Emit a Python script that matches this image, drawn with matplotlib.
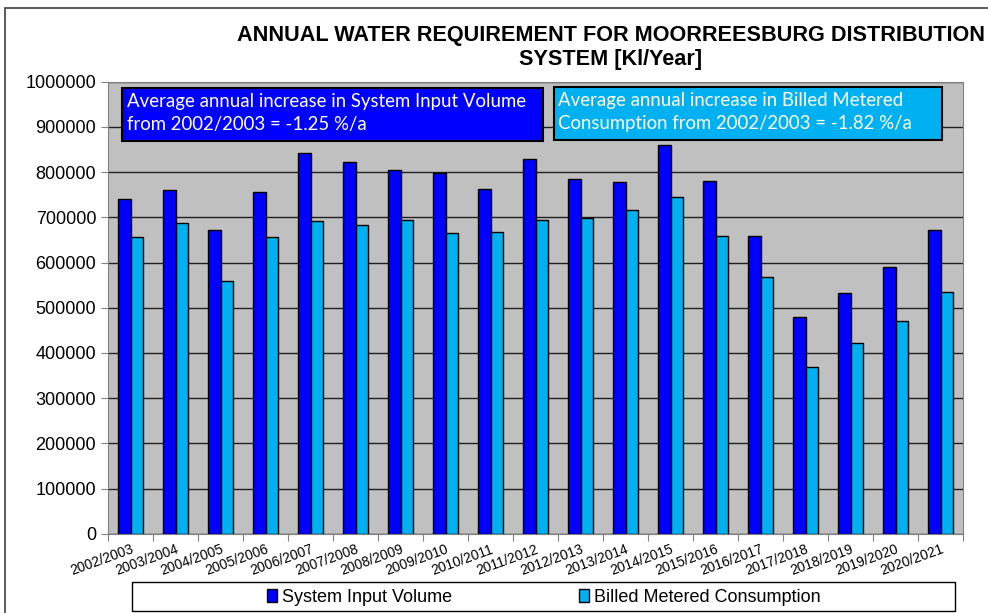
import numpy as np
import matplotlib.pyplot as plt
from matplotlib.patches import Rectangle

# data
years = ['2002/2003', '2003/2004', '2004/2005', '2005/2006', '2006/2007', '2007/2008',
         '2008/2009', '2009/2010', '2010/2011', '2011/2012', '2012/2013', '2013/2014',
         '2014/2015', '2015/2016', '2016/2017', '2017/2018', '2018/2019', '2019/2020',
         '2020/2021']
system_input = [740000, 760000, 672000, 755000, 842000, 823000, 804000, 797000, 763000,
                828000, 785000, 779000, 860000, 780000, 659000, 480000, 533000, 590000,
                671000]
billed_metered = [656000, 688000, 559000, 657000, 692000, 684000, 693000, 666000, 668000,
                  695000, 698000, 717000, 746000, 658000, 569000, 369000, 421000, 470000,
                  535000]
yticks = np.arange(0, 1000001, 100000)

siv_color = '#0000FF'
bmc_color = '#00B0F0'

W, H = 988, 613
fig = plt.figure(figsize=(W / 100, H / 100), dpi=100)
ax = fig.add_axes([108 / W, 1 - 533.7 / H, (963.3 - 108) / W, (533.7 - 81.7) / H])

x = np.arange(len(years))
bw = 0.28
ax.set_facecolor('#C0C0C0')
ax.bar(x - bw / 2, system_input, bw, color=siv_color, edgecolor='black', linewidth=1,
       label='System Input Volume', zorder=3)
ax.bar(x + bw / 2, billed_metered, bw, color=bmc_color, edgecolor='black', linewidth=1,
       label='Billed Metered Consumption', zorder=3)

ax.set_xlim(-0.5, len(years) - 0.5)
ax.set_ylim(0, 1000000)
ax.set_yticks(yticks)
ax.set_yticklabels([str(v) for v in yticks], fontsize=13, family='Liberation Sans')
ax.yaxis.grid(True, color='#202020', linewidth=1, zorder=1)

# ticks between categories, labels at the centres
ax.set_xticks(np.arange(-0.5, len(years), 1))
ax.set_xticklabels([])
ax.set_xticks(x, minor=True)
ax.set_xticklabels(years, minor=True, rotation=20, ha='right', va='top',
                   rotation_mode='anchor', fontsize=10, family='Liberation Sans')
ax.tick_params(axis='x', which='minor', length=0, pad=6)
ax.tick_params(axis='both', which='major', length=5, color='#808080', direction='out')
for s in ax.spines.values():
    s.set_color('#808080')

# title
fig.text(611 / W, 1 - 36 / H, 'ANNUAL WATER REQUIREMENT FOR MOORREESBURG DISTRIBUTION',
         ha='center', va='center', fontsize=15.6, fontweight='bold', family='Liberation Sans')
fig.text(611 / W, 1 - 60 / H, 'SYSTEM [Kl/Year]',
         ha='center', va='center', fontsize=15.6, fontweight='bold', family='Liberation Sans')

# annotation boxes
fig.patches.append(Rectangle((122 / W, 1 - 141 / H), (543 - 122) / W, (141 - 88) / H,
                             transform=fig.transFigure, facecolor=siv_color,
                             edgecolor='black', linewidth=1.5, zorder=5))
fig.text(127 / W, 1 - 113 / H,
         'Average annual increase in System Input Volume\nfrom 2002/2003 = -1.25 %/a',
         ha='left', va='center', color='white', fontsize=13.4, family='Lato',
         linespacing=1.45, zorder=6)
fig.patches.append(Rectangle((554 / W, 1 - 140 / H), (942 - 554) / W, (140 - 87) / H,
                             transform=fig.transFigure, facecolor=bmc_color,
                             edgecolor='black', linewidth=1.5, zorder=5))
fig.text(558 / W, 1 - 112 / H,
         'Average annual increase in Billed Metered\nConsumption from 2002/2003 = -1.82 %/a',
         ha='left', va='center', color='white', fontsize=13.4, family='Lato',
         linespacing=1.45, zorder=6)

# legend box
fig.patches.append(Rectangle((132 / W, 1 - 611 / H), (955 - 132) / W, (611 - 582) / H,
                             transform=fig.transFigure, facecolor='white',
                             edgecolor='black', linewidth=1))
leg = fig.legend(loc='center', bbox_to_anchor=(544 / W, 1 - 597 / H), ncol=2,
                 frameon=False, prop={'family': 'Liberation Sans', 'size': 13},
                 handlelength=0.55, handleheight=0.75, handletextpad=0.3,
                 columnspacing=7.0)

# outer chart border
fig.patches.append(Rectangle((5 / W, -0.1), 1.2, 1 - 8 / H + 0.1,
                             transform=fig.transFigure, facecolor='none',
                             edgecolor='#404040', linewidth=1.2))

fig.savefig('out.png', dpi=100)
